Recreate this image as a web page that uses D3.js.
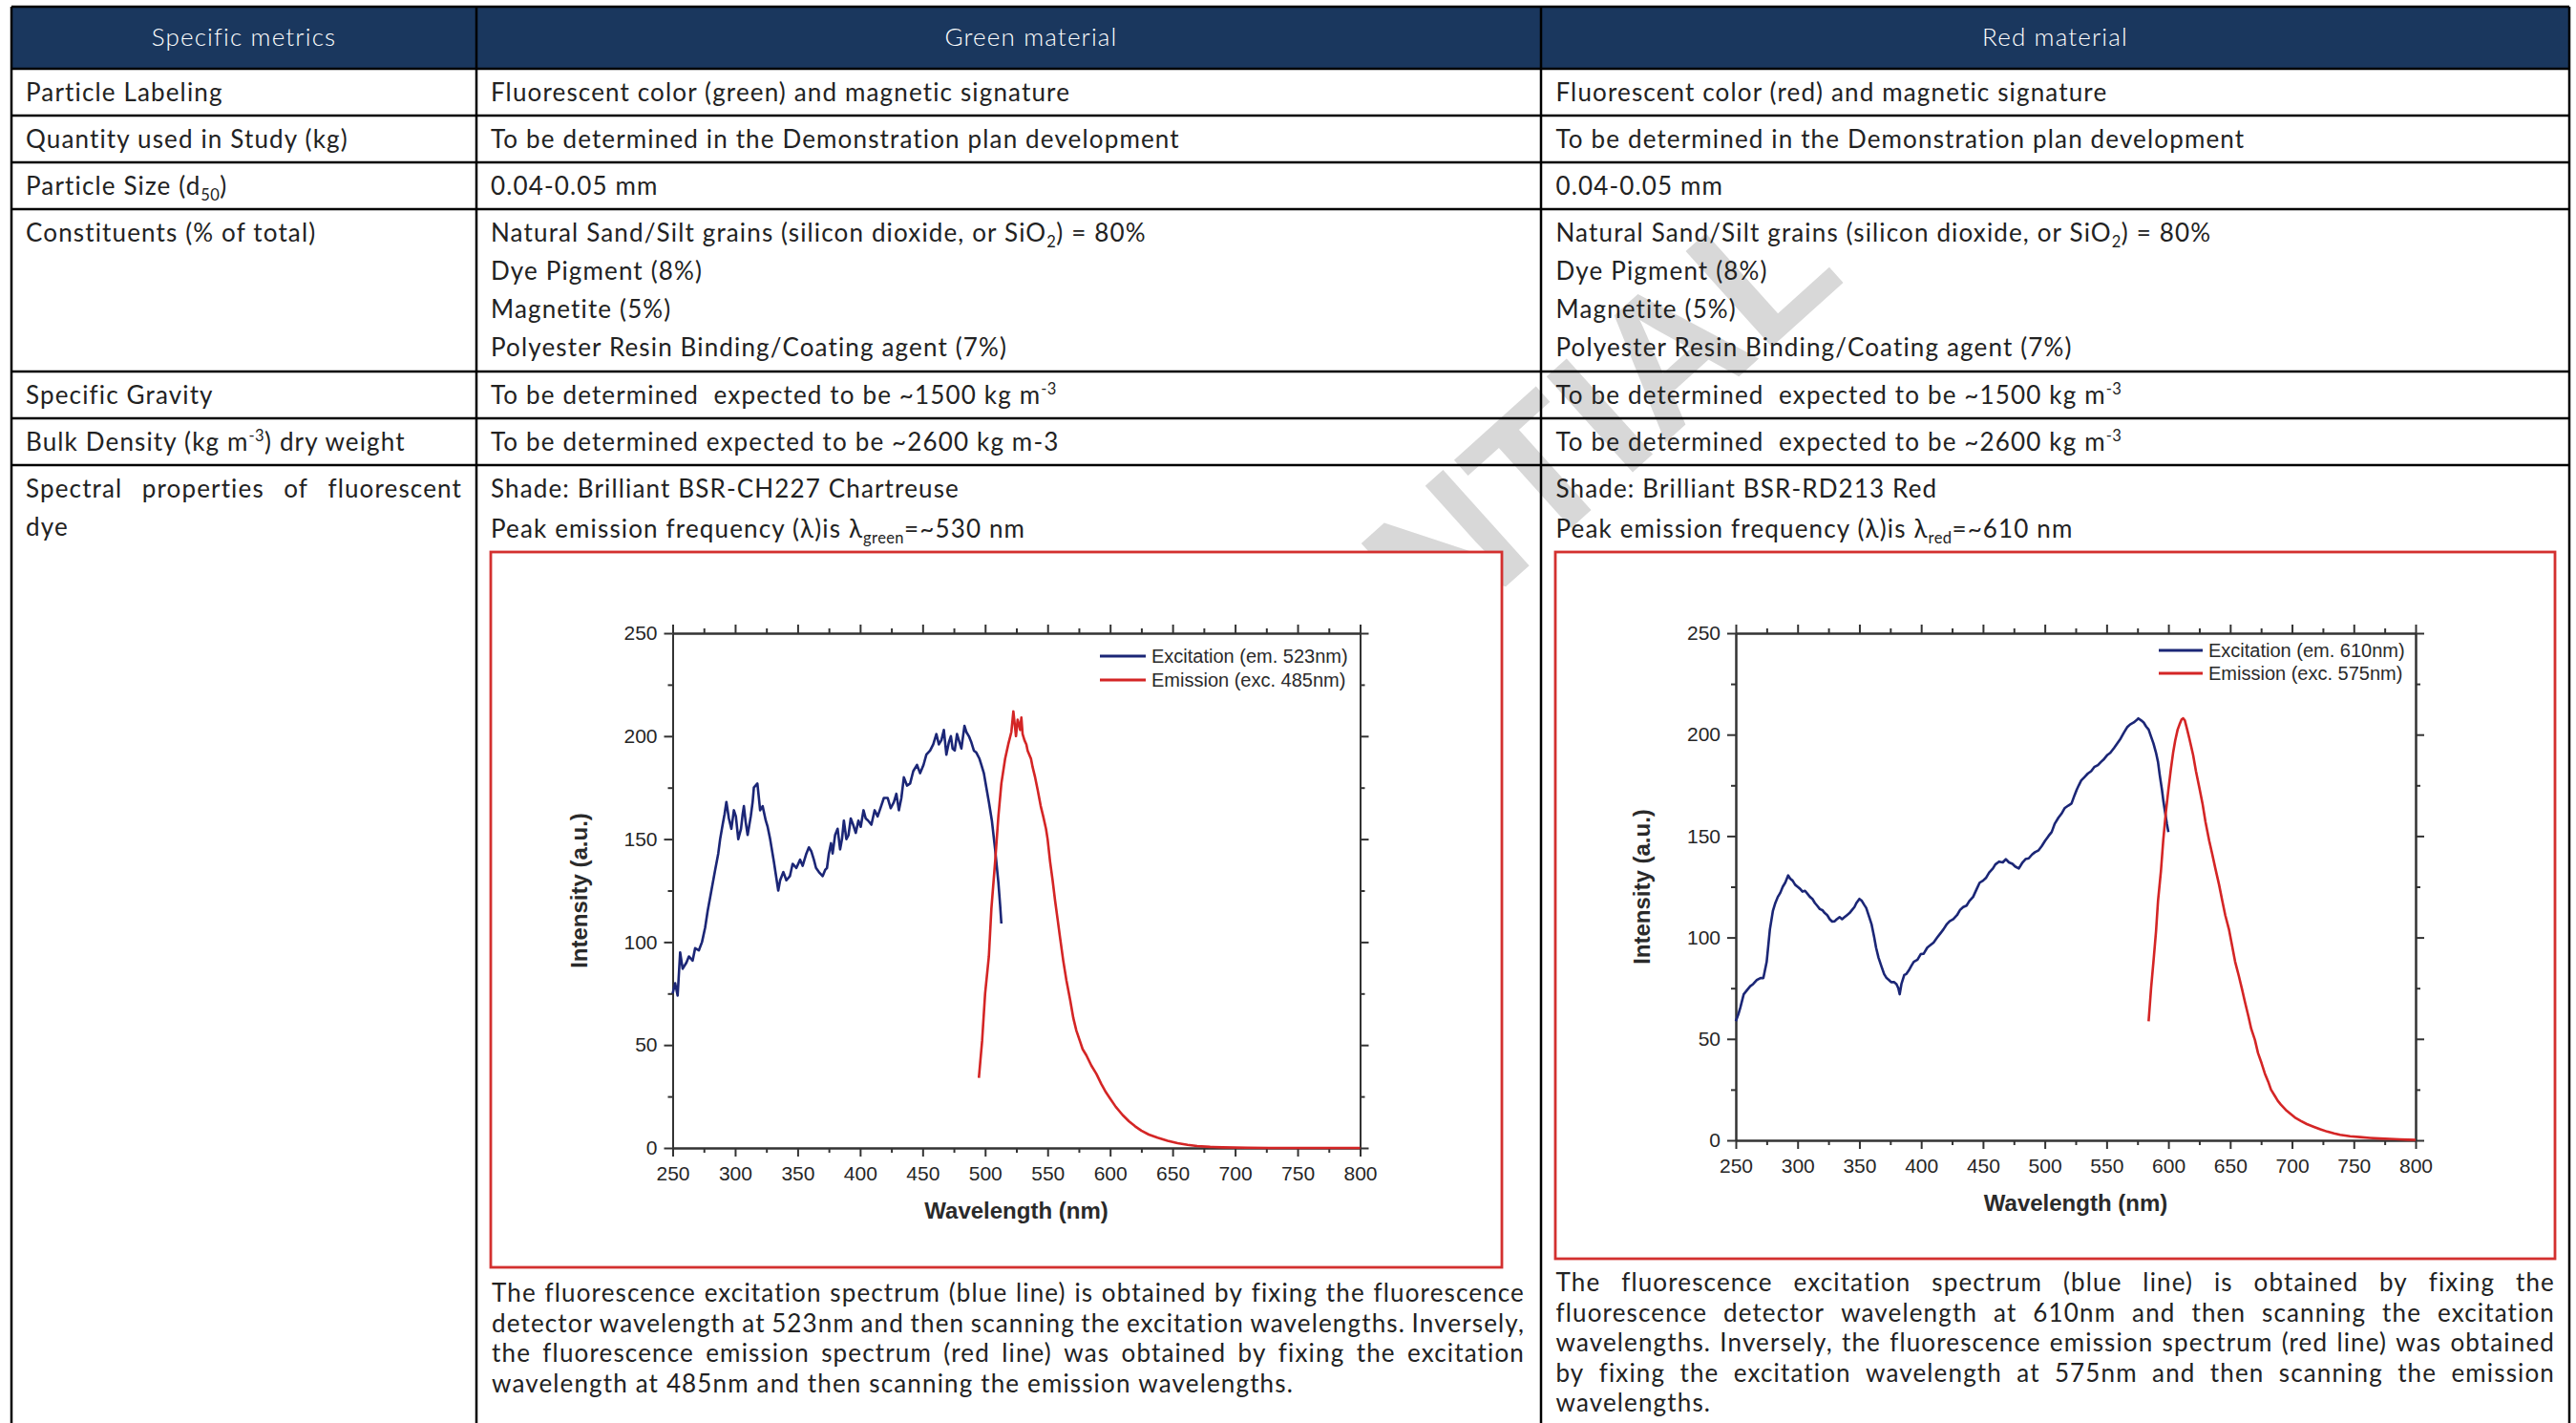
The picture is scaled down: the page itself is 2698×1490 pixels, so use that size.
<!DOCTYPE html>
<html>
<head>
<meta charset="utf-8">
<script src="https://cdn.jsdelivr.net/npm/d3@7"></script>
<style>
  body { margin: 0; background: #fff; }
  svg { display: block; }
</style>
</head>
<body>
<svg id="page"></svg>
<script>
// ---- table content ----
const columnHeaders = ["Specific metrics", "Green material", "Red material"];

const rowLabels = [
  "Particle Labeling",
  "Quantity used in Study (kg)",
  "Particle Size (d_{50})",
  "Constituents (% of total)",
  "Specific Gravity",
  "Bulk Density (kg m^{-3}) dry weight",
  "Spectral properties of fluorescent dye"
];

const constituents = [
  "Natural Sand/Silt grains (silicon dioxide, or SiO_{2}) = 80%",
  "Dye Pigment (8%)",
  "Magnetite (5%)",
  "Polyester Resin Binding/Coating agent (7%)"
];

const greenCells = [
  ["Fluorescent color (green) and magnetic signature"],
  ["To be determined in the Demonstration plan development"],
  ["0.04-0.05 mm"],
  constituents,
  ["To be determined  expected to be ~1500 kg m^{-3}"],
  ["To be determined expected to be ~2600 kg m-3"],
  ["Shade: Brilliant BSR-CH227 Chartreuse", "Peak emission frequency (λ)is λ_{green}=~530 nm"]
];

const redCells = [
  ["Fluorescent color (red) and magnetic signature"],
  ["To be determined in the Demonstration plan development"],
  ["0.04-0.05 mm"],
  constituents,
  ["To be determined  expected to be ~1500 kg m^{-3}"],
  ["To be determined  expected to be ~2600 kg m^{-3}"],
  ["Shade: Brilliant BSR-RD213 Red", "Peak emission frequency (λ)is λ_{red}=~610 nm"]
];

const greenNote = [
  "The fluorescence excitation spectrum (blue line) is obtained by fixing the fluorescence",
  "detector wavelength at 523nm and then scanning the excitation wavelengths. Inversely,",
  "the fluorescence emission spectrum (red line) was obtained by fixing the excitation",
  "wavelength at 485nm and then scanning the emission wavelengths."
];

const redNote = [
  "The fluorescence excitation spectrum (blue line) is obtained by fixing the",
  "fluorescence detector wavelength at 610nm and then scanning the excitation",
  "wavelengths. Inversely, the fluorescence emission spectrum (red line) was obtained",
  "by fixing the excitation wavelength at 575nm and then scanning the emission",
  "wavelengths."
];

// ---- spectra, [wavelength nm, intensity a.u.] ----
const greenExcitation = [
  [250,75],[252,80],[254,74],[256,95],[258,87],[261,90],[263,93],[266,91],[268,97],[271,96],
  [273.5,100],[276,107],[278,115],[281,125],[284,135],[286.5,143],[288,150],[290,157],[291.5,162],[293,168],
  [295,160],[297,155],[299,164],[300.6,161],[302.5,150],[304.7,155],[306,162],[307,166],[308.5,158],[310,152],
  [312.5,161],[314,168],[315,175],[317.8,177],[319,170],[320,164],[322,166],[324.5,159],[326,156],[328,150],
  [331,139],[332.5,133],[334.5,125],[336,130],[338.6,134],[341,130],[343.8,132],[346,138],[349,136],[352,140],
  [354,137],[357,143],[359,146],[361,144],[363,140],[364.7,136],[367,134],[370,132],[372,135],[373.5,136],
  [375,143],[376.7,148],[378,143],[380,152],[382,155],[384,145],[385.5,150],[387,159],[389,150],[390.7,152],
  [392.5,160],[394.4,157],[396.5,153],[398.6,159],[400.5,156],[402.7,164],[404.5,160],[406.4,159],[409,157],[411.6,164],
  [414,161],[416.8,166],[419,170],[422,170],[424.5,165],[427,168],[429,172],[431,164],[433,170],[435,180],
  [437.5,176],[440,177],[442.5,183],[445.5,186],[448,182],[450.7,186],[453,191],[456,193],[458.5,196],[461,201],
  [463,196],[465,198],[467,203],[469,191],[471,197],[472.6,200],[474,194],[475.7,193],[477.5,201],[479,198],
  [481,194],[483.5,205],[485,202],[487,200],[489,197],[491,193],[493,192],[495.5,189],[497,186],[499,182],
  [501,175],[503,168],[505.4,159],[508,145],[510.6,129],[512,118],[513,109]
];

const greenEmission = [
  [495,34],[497.6,52],[500,75],[503,93],[505,116],[508,139],[510.6,161],[513,177],[516,189],[518.5,196],
  [521,202],[522.6,212],[524.7,200],[526,208],[527,206],[528,203],[529,209],[530,201],[531.5,198],[533,196],
  [534,193],[536.7,189],[538,185],[540,180],[542,174],[544.5,166],[546.5,161],[548.7,155],[550,150],[552,139],
  [554,130],[556,120],[558,111],[560,102],[562.5,91],[565,81.5],[568,72],[570.6,63],[573,57],[575.8,52],
  [578,48],[581,45],[585,40],[589,36],[593,31],[596.7,27],[600,24],[604.5,20],[610,16],[615,13],
  [620,10.5],[625,8.4],[631,6.5],[638,5],[646,3.5],[654,2.3],[662,1.5],[669.6,0.9],[680,0.5],[690,0.3],
  [710,0.1],[727,0],[760,0],[800,0]
];

const redExcitation = [
  [250,58.7],[252,62],[253.7,65.5],[256.4,72],[259,74],[261.7,76],[264,77],[267,79],[270,80],[272.3,80],
  [275,88],[277.6,104],[280,113],[282,117],[284,120],[286,122],[288,125],[290,127],[292.4,130.6],[294,129],
  [296,128],[298,126],[300,125],[302,124],[304,122.6],[306,123],[308,121.5],[310,120],[312,119],[314,117],
  [315.8,115.7],[318,114],[320,113.5],[322,112],[324,111],[326,109],[328,107.8],[330,108],[331.7,109],[334,110],
  [336,109],[338,110],[340,111],[342,112],[344,113.5],[346,115],[347.6,117],[350,119],[352,118],[354,116],
  [355.5,114.6],[358,110],[359.8,106.6],[362,100],[363.5,95],[365.5,90],[367.7,86],[370,82],[372,80],[374,79],
  [375.7,78],[378,78],[380,77],[381.5,75],[382.6,72],[384,77],[386.3,81.5],[388,82],[390,83.8],[392,86],
  [394,88],[397,89],[399.6,91.8],[402,92],[404.9,95],[407,96],[410,97.5],[413,100],[415.5,102],[418,104],
  [420.8,106.6],[423,108],[426,109],[429,111],[431.4,113.5],[434,115],[436.7,115.7],[439,118],[442,120],[445,124],
  [447.3,127],[450,128],[452.6,129.5],[455,132],[458,134],[460,136],[463,137.4],[466,137],[468.5,138.6],[471,137],
  [473.8,136.3],[476,135],[479,134],[482,137],[484.4,138.6],[487,139],[489.7,140.9],[492,142],[495,143],[497.5,145],
  [500.3,147.7],[503,150],[505.6,152],[508,156],[511,159],[513.5,161],[516,163.7],[519,165],[521.6,166],[524,170],
  [525.8,172.8],[527.5,175],[529.5,177.4],[532,179],[534.8,180.8],[537.5,182],[540,184],[543,185],[545.4,186.5],[548,188],
  [550.7,190],[553,191],[556,193.4],[559,196],[561.3,198],[564,201],[566.6,203.6],[569,205],[572,206],[574,207],
  [575.7,208],[578,207],[580,206],[582,204],[584,202.5],[586,199],[587.9,195.7],[590,191],[591.6,186.5],[593,180],
  [594.8,172.8],[596,167],[597.4,161.4],[598.8,156],[600,152]
];

const redEmission = [
  [584,58.7],[586,75],[587.9,88],[590,103],[591.6,118],[594,133],[595.8,147.7],[598,162],[600,172.8],[602,183],
  [603.8,191],[605.5,197],[607.5,202.5],[609,205],[610.7,207.5],[612,208],[613.3,207],[615,203],[617,198],[620,190],
  [622.3,182],[625,174],[627.6,166],[630,157],[633,147.7],[635.5,141],[638,134],[641,126],[643.6,118],[646,111],
  [649,104],[651.5,96],[654,88],[657,81],[659.5,74.7],[662,68],[664.8,61],[667,55],[670,49.5],[672.5,43],
  [675.4,38],[678,33],[680.7,29],[683,25],[686,22],[688.5,19.5],[691,17.6],[695,15],[699,13],[703,11],
  [707,9.6],[712,8],[717.8,6.6],[723,5.4],[728.4,4.3],[734,3.4],[739,2.7],[747,2],[755,1.6],[763,1.2],
  [771,0.9],[779,0.7],[787,0.5],[794,0.3],[800,0.2]
];

const greenLegend = ["Excitation (em. 523nm)", "Emission (exc. 485nm)"];
const redLegend = ["Excitation (em. 610nm)", "Emission (exc. 575nm)"];

// ---- page layout ----
const width = 2698;
const height = 1490;
const colX = [12, 499, 1614, 2691];
const rowY = [7, 72, 121, 170, 219, 389, 438, 487];
const textX = [27, 514, 1629.5];
const bodyFont = "Lato, 'Open Sans', sans-serif";
const plotFont = "'Liberation Sans', Arial, sans-serif";

const svg = d3.select("#page")
  .attr("width", width)
  .attr("height", height)
  .attr("viewBox", `0 0 ${width} ${height}`);

svg.append("rect").attr("width", width).attr("height", height).attr("fill", "#fff");

// watermark sits under everything else
svg.append("text")
  .attr("transform", "translate(1935,292) rotate(-42)")
  .attr("text-anchor", "end")
  .attr("font-family", plotFont)
  .attr("font-weight", 700)
  .attr("font-size", 196)
  .attr("fill", "#d8d8d8")
  .text("CONFIDENTIAL");

// header band
svg.append("rect")
  .attr("x", colX[0]).attr("y", rowY[0])
  .attr("width", colX[3] - colX[0]).attr("height", rowY[1] - rowY[0])
  .attr("fill", "#1a375e");

const body = svg.append("g")
  .attr("font-family", bodyFont)
  .attr("font-weight", 400)
  .attr("font-size", 26)
  .attr("letter-spacing", 1.15)
  .attr("fill", "#222");

// text with _{sub} and ^{sup} pieces
function addRich(parent, x, y, str) {
  const t = parent.append("text").attr("x", x).attr("y", y).attr("xml:space", "preserve");
  const parts = str.split(/(_\{[^}]*\}|\^\{[^}]*\})/).filter(s => s.length);
  let shift = 0;
  parts.forEach(p => {
    let target = 0, txt = p, small = false;
    if (p.startsWith("_{")) { target = 6; txt = p.slice(2, -1); small = true; }
    else if (p.startsWith("^{")) { target = -10; txt = p.slice(2, -1); small = true; }
    const ts = t.append("tspan").attr("dy", target - shift).text(txt);
    if (small) ts.attr("font-size", 16.5).attr("letter-spacing", 0.4);
    shift = target;
  });
  return t;
}

// justified line, word by word
function spaceWidth(parent) {
  const a = parent.append("text").text("a a");
  const b = parent.append("text").text("aa");
  const w = a.node().getComputedTextLength() - b.node().getComputedTextLength();
  a.remove(); b.remove();
  return w;
}

function lineOfWords(parent, str, x0, x1, y, justify) {
  const words = str.split(" ");
  const nodes = words.map(w => parent.append("text").attr("y", y).text(w));
  const widths = nodes.map(n => n.node().getComputedTextLength());
  const gap = justify && words.length > 1
    ? (x1 - x0 - d3.sum(widths)) / (words.length - 1)
    : spaceWidth(parent);
  let x = x0;
  nodes.forEach((n, i) => { n.attr("x", x); x += widths[i] + gap; });
}

// header texts
const headerCenters = [255.5, 1080, 2152.5];
columnHeaders.forEach((h, i) => {
  body.append("text")
    .attr("x", headerCenters[i]).attr("y", 48)
    .attr("text-anchor", "middle")
    .attr("font-weight", 300)
    .attr("fill", "#fff")
    .text(h);
});

// body rows
rowLabels.forEach((label, r) => {
  const base = rowY[r + 1] + 34;
  const step = r === 6 ? 41.5 : 40;
  if (r === 6) {
    lineOfWords(body, "Spectral properties of fluorescent", textX[0], 484, base, true);
    lineOfWords(body, "dye", textX[0], 484, base + 39.5, false);
  } else {
    addRich(body, textX[0], base, label);
  }
  greenCells[r].forEach((s, k) => addRich(body, textX[1], base + k * step, s));
  redCells[r].forEach((s, k) => addRich(body, textX[2], base + k * step, s));
});

// notes under the plots
greenNote.forEach((s, k) => lineOfWords(body, s, 515, 1597, 1363 + k * 31.6, k < greenNote.length - 1));
redNote.forEach((s, k) => lineOfWords(body, s, 1629.5, 2676, 1352 + k * 31.5, k < redNote.length - 1));

// grid lines
const grid = svg.append("g").attr("stroke", "#000").attr("stroke-width", 2.5);
rowY.forEach(y => grid.append("line").attr("x1", colX[0]).attr("x2", colX[3]).attr("y1", y).attr("y2", y));
colX.forEach(x => grid.append("line").attr("x1", x).attr("x2", x).attr("y1", rowY[0]).attr("y2", height + 5));

// ---- spectra plots ----
function drawChart(cfg) {
  const g = svg.append("g");
  const [bx0, by0, bx1, by1] = cfg.box;
  const [px0, py0, px1, py1] = cfg.plot;

  g.append("rect")
    .attr("x", bx0).attr("y", by0)
    .attr("width", bx1 - bx0).attr("height", by1 - by0)
    .attr("fill", "#fff")
    .attr("stroke", "#d3302f")
    .attr("stroke-width", 2.8);

  const x = d3.scaleLinear().domain([250, 800]).range([px0, px1]);
  const y = d3.scaleLinear().domain([0, 250]).range([py1, py0]);

  const majorX = d3.range(250, 801, 50), minorX = d3.range(275, 800, 50);
  const majorY = d3.range(0, 251, 50), minorY = d3.range(25, 250, 50);

  const axes = [
    [d3.axisBottom, x, `translate(0,${py1})`, majorX, minorX, true, 10],
    [d3.axisTop, x, `translate(0,${py0})`, majorX, minorX, false, 0],
    [d3.axisLeft, y, `translate(${px0},0)`, majorY, minorY, true, 7],
    [d3.axisRight, y, `translate(${px1},0)`, majorY, minorY, false, 0]
  ];
  axes.forEach(([axisFn, scale, tr, major, minor, labels, pad]) => {
    g.append("g").attr("transform", tr)
      .call(axisFn(scale).tickValues(minor).tickSize(5).tickSizeOuter(0).tickFormat(""));
    g.append("g").attr("transform", tr)
      .call(axisFn(scale).tickValues(major).tickSize(9).tickSizeOuter(0).tickPadding(pad)
        .tickFormat(labels ? d3.format("d") : ""));
  });
  g.selectAll(".domain, .tick line").attr("stroke", "#333").attr("stroke-width", 2);
  g.selectAll(".tick text")
    .attr("font-family", plotFont)
    .attr("font-size", 21)
    .attr("fill", "#262626");

  const line = d3.line().x(d => x(d[0])).y(d => y(d[1]));
  g.append("path").datum(cfg.excitation)
    .attr("d", line).attr("fill", "none")
    .attr("stroke", "#1b2676").attr("stroke-width", 2.6).attr("stroke-linejoin", "round");
  g.append("path").datum(cfg.emission)
    .attr("d", line).attr("fill", "none")
    .attr("stroke", "#d42525").attr("stroke-width", 2.6).attr("stroke-linejoin", "round");

  // legend
  const colors = ["#1b2676", "#d42525"];
  cfg.legend.forEach((txt, i) => {
    const ly = cfg.legendY + i * cfg.legendStep;
    g.append("line")
      .attr("x1", cfg.legendX).attr("x2", cfg.legendX + cfg.legendLen)
      .attr("y1", ly).attr("y2", ly)
      .attr("stroke", colors[i]).attr("stroke-width", 3);
    g.append("text")
      .attr("x", cfg.legendX + cfg.legendLen + 6).attr("y", ly)
      .attr("dy", "0.35em")
      .attr("font-family", plotFont).attr("font-size", 20)
      .attr("fill", "#2a2a2a")
      .text(txt);
  });

  g.append("text")
    .attr("x", (px0 + px1) / 2).attr("y", py1 + 73.5)
    .attr("text-anchor", "middle")
    .attr("font-family", plotFont).attr("font-weight", 700).attr("font-size", 24)
    .attr("fill", "#2a2a2a")
    .text("Wavelength (nm)");

  g.append("text")
    .attr("transform", `translate(${px0 - 98},${(py0 + py1) / 2}) rotate(-90)`)
    .attr("text-anchor", "middle").attr("dy", "0.35em")
    .attr("font-family", plotFont).attr("font-weight", 700).attr("font-size", 24)
    .attr("fill", "#2a2a2a")
    .text("Intensity (a.u.)");
}

drawChart({
  box: [514, 578, 1573, 1327],
  plot: [704.5, 663, 1424.5, 1202],
  excitation: greenExcitation,
  emission: greenEmission,
  legend: greenLegend,
  legendX: 1152, legendY: 687, legendStep: 25, legendLen: 48
});

drawChart({
  box: [1629, 578, 2676, 1318],
  plot: [1818, 663, 2530, 1194],
  excitation: redExcitation,
  emission: redEmission,
  legend: redLegend,
  legendX: 2261, legendY: 681, legendStep: 24, legendLen: 46
});
</script>
</body>
</html>
